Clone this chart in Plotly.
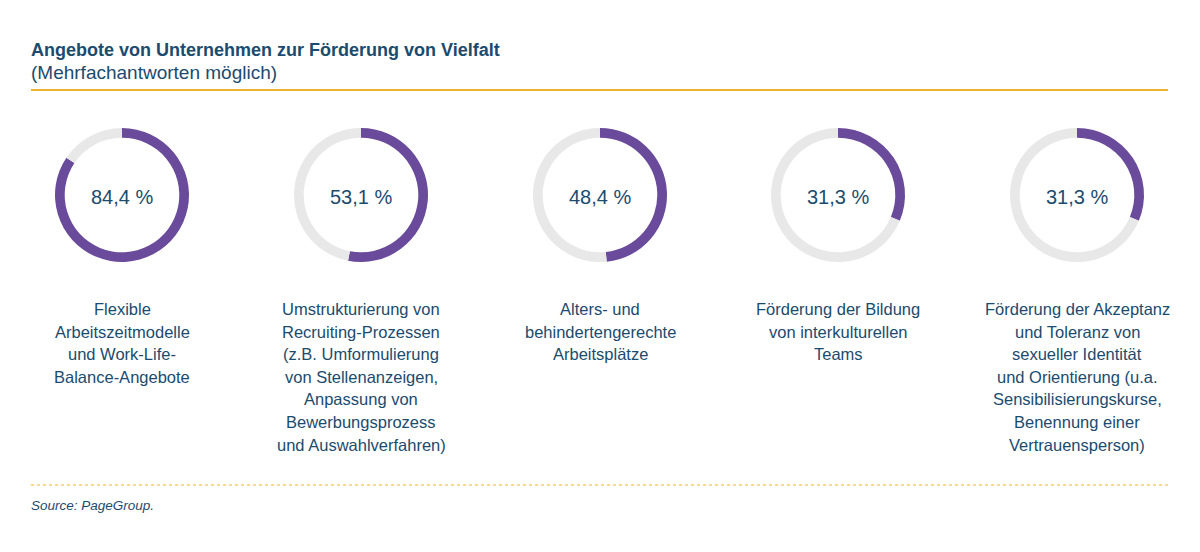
import plotly.graph_objects as go

W, H = 1200, 552

# ---- data ----
values = [84.4, 53.1, 48.4, 31.3, 31.3]
value_labels = ["84,4 %", "53,1 %", "48,4 %", "31,3 %", "31,3 %"]
categories = [
    ["Flexible", "Arbeitszeitmodelle", "und Work-Life-", "Balance-Angebote"],
    ["Umstrukturierung von", "Recruiting-Prozessen", "(z.B. Umformulierung",
     "von Stellenanzeigen,", "Anpassung von", "Bewerbungsprozess", "und Auswahlverfahren)"],
    ["Alters- und", "behindertengerechte", "Arbeitsplätze"],
    ["Förderung der Bildung", "von interkulturellen", "Teams"],
    ["Förderung der Akzeptanz", "und Toleranz von", "sexueller Identität",
     "und Orientierung (u.a.", "Sensibilisierungskurse,", "Benennung einer", "Vertrauensperson)"],
]
title = "Angebote von Unternehmen zur Förderung von Vielfalt"
subtitle = "(Mehrfachantworten möglich)"
source = "Source: PageGroup."

# ---- style ----
PURPLE = "#6a4a9b"
GREY = "#e8e8e8"
BLUE = "#1b4b6e"
ORANGE = "#efb32b"
FONT = "Liberation Sans, Arial, sans-serif"

centers_x = [122, 361, 600, 838, 1077]
cy = 195
R = 67

def px(x):
    return x / W

def py(y):
    return 1 - y / H

fig = go.Figure()
annotations = []
for i, v in enumerate(values):
    cx = centers_x[i]
    fig.add_trace(go.Pie(
        values=[v, 100 - v],
        marker=dict(colors=[PURPLE, GREY], line=dict(width=0)),
        hole=0.855,
        sort=False,
        direction="clockwise",
        rotation=0,
        textinfo="none",
        hoverinfo="skip",
        showlegend=False,
        domain=dict(x=[px(cx - R), px(cx + R)], y=[py(cy + R), py(cy - R)]),
    ))
    annotations.append(dict(
        x=px(cx), y=py(cy + 2), xref="paper", yref="paper",
        text=value_labels[i], showarrow=False, xanchor="center", yanchor="middle",
        font=dict(family=FONT, size=20, color=BLUE),
    ))
    for j, line in enumerate(categories[i]):
        annotations.append(dict(
            x=px(cx), y=py(309 + j * 22.6), xref="paper", yref="paper",
            text=line, showarrow=False, xanchor="center", yanchor="middle",
            font=dict(family=FONT, size=16.5, color=BLUE),
        ))

annotations.append(dict(
    x=px(29), y=py(50), xref="paper", yref="paper", text="<b>" + title + "</b>",
    showarrow=False, xanchor="left", yanchor="middle",
    font=dict(family=FONT, size=18, color=BLUE),
))
annotations.append(dict(
    x=px(29), y=py(72), xref="paper", yref="paper", text=subtitle,
    showarrow=False, xanchor="left", yanchor="middle",
    font=dict(family=FONT, size=19, color=BLUE),
))
annotations.append(dict(
    x=px(29), y=py(505), xref="paper", yref="paper", text="<i>" + source + "</i>",
    showarrow=False, xanchor="left", yanchor="middle",
    font=dict(family=FONT, size=13.5, color=BLUE),
))

shapes = [
    dict(type="line", xref="paper", yref="paper", x0=px(31), x1=px(1168),
         y0=py(90), y1=py(90), line=dict(color=ORANGE, width=2)),
    dict(type="line", xref="paper", yref="paper", x0=px(31), x1=px(1168),
         y0=py(485), y1=py(485), line=dict(color=ORANGE, width=1.2, dash="dot")),
]

fig.update_layout(
    width=W, height=H,
    margin=dict(l=0, r=0, t=0, b=0),
    paper_bgcolor="white", plot_bgcolor="white",
    annotations=annotations, shapes=shapes,
    showlegend=False,
)

fig.write_html("out.html", config={"displayModeBar": False})
